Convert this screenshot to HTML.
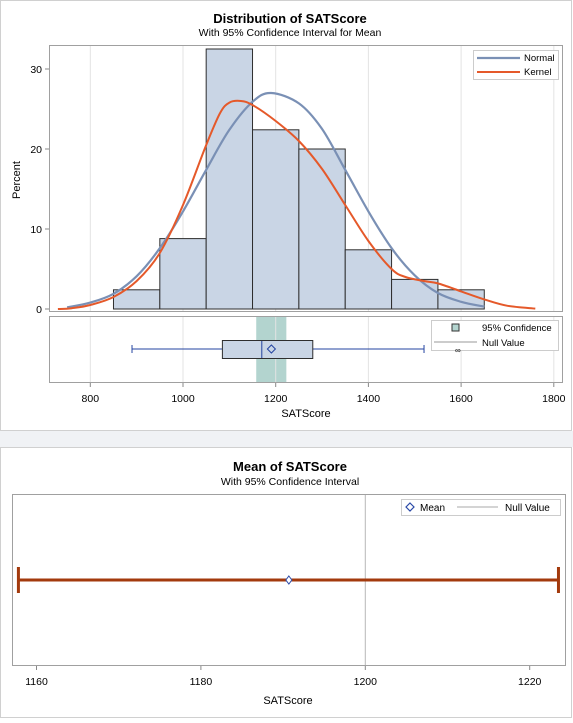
<!DOCTYPE html>
<html><head><meta charset="utf-8"><style>
body{margin:0;background:#fff;width:573px;height:718px;overflow:hidden;font-family:"Liberation Sans",sans-serif;}
svg text{font-family:"Liberation Sans",sans-serif;}
</style></head><body>
<svg id="s" width="573" height="718">
<rect x="0" y="0" width="573" height="718" fill="#fff"/>
<rect x="0" y="431" width="573" height="16" fill="#f0f2f5"/>
<rect x="0.5" y="0.5" width="571" height="430" fill="none" stroke="#d0d0d0"/>
<rect x="0.5" y="447.5" width="571" height="270" fill="none" stroke="#d0d0d0"/>
<text x="290" y="23" text-anchor="middle" font-size="13" font-weight="bold">Distribution of SATScore</text>
<text x="290" y="36" text-anchor="middle" font-size="10.5">With 95% Confidence Interval for Mean</text>
<text x="290" y="471" text-anchor="middle" font-size="13" font-weight="bold">Mean of SATScore</text>
<text x="290" y="485" text-anchor="middle" font-size="10.5">With 95% Confidence Interval</text>
<g id="topg"></g><g id="botg"></g>
</svg>
<script>
const binStarts=[850,950,1050,1150,1250,1350,1450,1550];
const binPercents=[2.4,8.8,32.5,22.4,20,7.4,3.7,2.4];
const normalX=[750,800,850,900,950,1000,1050,1100,1150,1190,1250,1300,1350,1400,1450,1500,1550,1600,1650];
const normalY=[0.2,0.8,1.9,4.1,7.6,12.2,17.4,22.4,25.9,27,25.7,22.5,17.4,12.2,7.6,4.2,2.0,0.9,0.3];
const kernelX=[730,760,800,850,900,950,1000,1050,1080,1100,1125,1150,1200,1250,1300,1350,1400,1450,1480,1520,1550,1600,1650,1700,1760];
const kernelY=[0,0.1,0.5,1.5,3.5,7,13,20.5,24.5,25.8,26,25.5,23.5,21,17.5,13,8.5,5,4,3.5,3.2,2.2,1.2,0.4,0.05];
const xTicks=[800,1000,1200,1400,1600,1800];
const yTicks=[0,10,20,30];
const boxStats={min:890,q1:1085,median:1170,mean:1190.7,q3:1280,max:1520};
const ciTop=[1158,1223];
const ciLow=[1157.8],ciHigh=[1223.5],meanVal=[1190.7],nullVal=[1200];
const botTicks=[1160,1180,1200,1220];

const NS="http://www.w3.org/2000/svg";
function mk(p,t,a){const e=document.createElementNS(NS,t);for(const k in a)e.setAttribute(k,a[k]);p.appendChild(e);return e;}
const topG=document.getElementById('topg'),botG=document.getElementById('botg');
const X=v=>90.3+(v-800)*0.4635;
const Y=v=>309-v*8;
let f=mk(topG,'rect',{x:49.5,y:45.5,width:513,height:266,fill:'#fff',stroke:'#a0a0a0'});


f=mk(topG,'rect',{x:49.5,y:316.5,width:513,height:66,fill:'#fff',stroke:'#a0a0a0'});


const band=mk(topG,'rect',{x:X(ciTop[0]),y:317,width:X(ciTop[1])-X(ciTop[0]),height:65,fill:'#b3d4cf'});


xTicks.forEach(t=>{
 [[46,311],[317,382]].forEach(r=>{const g=mk(topG,'line',{x1:X(t),x2:X(t),y1:r[0],y2:r[1],stroke:'#e3e3e3'});
 
 });
 mk(topG,'line',{x1:X(t),x2:X(t),y1:383,y2:387,stroke:'#888'});
 const l=mk(topG,'text',{x:X(t),y:402,'text-anchor':'middle','font-size':'10.5'});l.textContent=t;
 
 
});
yTicks.forEach(t=>{
 mk(topG,'line',{x1:45,x2:49,y1:Y(t),y2:Y(t),stroke:'#888'});
 const l=mk(topG,'text',{x:42,y:Y(t)+4,'text-anchor':'end','font-size':'10.5'});l.textContent=t;
 
 
});
let t=mk(topG,'text',{x:20,y:180,'text-anchor':'middle','font-size':'11',transform:'rotate(-90 20 180)'});t.textContent='Percent';


t=mk(topG,'text',{x:306,y:417,'text-anchor':'middle','font-size':'11'});t.textContent='SATScore';


binStarts.forEach((s,i)=>{const b=mk(topG,'rect',{x:X(s),y:Y(binPercents[i]),width:X(s+100)-X(s),height:Y(0)-Y(binPercents[i]),fill:'#c9d5e5',stroke:'#2e2e2e','stroke-width':1});
 
 });
function path(xs,ys){
 const P=xs.map((x,i)=>[X(x),Y(ys[i])]);
 let d='M'+P[0][0].toFixed(1)+','+P[0][1].toFixed(1);
 for(let i=0;i<P.length-1;i++){
  const p0=P[i-1]||P[i],p1=P[i],p2=P[i+1],p3=P[i+2]||P[i+1];
  const c1=[p1[0]+(p2[0]-p0[0])/6,p1[1]+(p2[1]-p0[1])/6];
  const c2=[p2[0]-(p3[0]-p1[0])/6,p2[1]-(p3[1]-p1[1])/6];
  d+=`C${c1[0].toFixed(1)},${c1[1].toFixed(1)} ${c2[0].toFixed(1)},${c2[1].toFixed(1)} ${p2[0].toFixed(1)},${p2[1].toFixed(1)}`;
 }
 return d;
}
let p=mk(topG,'path',{d:path(normalX,normalY),fill:'none',stroke:'#7a90b5','stroke-width':2.2,'stroke-linejoin':'round'});


p=mk(topG,'path',{d:path(kernelX,kernelY),fill:'none',stroke:'#e5592a','stroke-width':2,'stroke-linejoin':'round'});


let lg=mk(topG,'g',{});


mk(lg,'rect',{x:473.5,y:50.5,width:85,height:29,fill:'#fff',stroke:'#ccc'});
mk(lg,'line',{x1:477,x2:520,y1:58,y2:58,stroke:'#7a90b5','stroke-width':2.2});
mk(lg,'line',{x1:477,x2:520,y1:72,y2:72,stroke:'#e5592a','stroke-width':2});
t=mk(lg,'text',{x:524,y:61,'font-size':'9.5'});t.textContent='Normal';


t=mk(lg,'text',{x:524,y:75,'font-size':'9.5'});t.textContent='Kernel';


const cy=349;
let bx=mk(topG,'g',{});


mk(bx,'line',{x1:X(boxStats.min),x2:X(boxStats.q1),y1:cy,y2:cy,stroke:'#2343a0'});
mk(bx,'line',{x1:X(boxStats.q3),x2:X(boxStats.max),y1:cy,y2:cy,stroke:'#2343a0'});
mk(bx,'line',{x1:X(boxStats.min),x2:X(boxStats.min),y1:cy-4,y2:cy+4,stroke:'#2343a0'});
mk(bx,'line',{x1:X(boxStats.max),x2:X(boxStats.max),y1:cy-4,y2:cy+4,stroke:'#2343a0'});
mk(bx,'rect',{x:X(boxStats.q1),y:340.5,width:X(boxStats.q3)-X(boxStats.q1),height:18,fill:'#c9d5e5',stroke:'#2e2e2e'});
mk(bx,'line',{x1:X(boxStats.median),x2:X(boxStats.median),y1:341,y2:358,stroke:'#2343a0'});
const mx=X(boxStats.mean);
mk(bx,'path',{d:`M${mx},${cy-4}L${mx+4},${cy}L${mx},${cy+4}L${mx-4},${cy}Z`,fill:'none',stroke:'#2343a0'});
lg=mk(topG,'g',{});


mk(lg,'rect',{x:431.5,y:320.5,width:127,height:30,fill:'#fff',stroke:'#ccc'});
mk(lg,'rect',{x:452,y:324,width:7,height:7,fill:'#b3d4cf',stroke:'#333'});
mk(lg,'line',{x1:434,x2:477,y1:342,y2:342,stroke:'#999'});
t=mk(lg,'text',{x:482,y:331,'font-size':'9.5'});t.textContent='95% Confidence';


t=mk(lg,'text',{x:482,y:346,'font-size':'9.5'});t.textContent='Null Value';


t=mk(lg,'text',{x:455,y:353,'font-size':'8'});t.textContent='∞';

const BX=v=>36.5+(v-1160)*164.4/20;
f=mk(botG,'rect',{x:12.5,y:494.5,width:553,height:171,fill:'#fff',stroke:'#a0a0a0'});


let nl=mk(botG,'line',{x1:BX(nullVal[0]),x2:BX(nullVal[0]),y1:495,y2:665,stroke:'#b8b8b8'});


botTicks.forEach(v=>{mk(botG,'line',{x1:BX(v),x2:BX(v),y1:666,y2:670,stroke:'#888'});
 const l=mk(botG,'text',{x:BX(v),y:685,'text-anchor':'middle','font-size':'10.5'});l.textContent=v;
 
 });
t=mk(botG,'text',{x:288,y:704,'text-anchor':'middle','font-size':'11'});t.textContent='SATScore';


const ey=580;
let eb=mk(botG,'g',{});


mk(eb,'line',{x1:BX(ciLow[0]),x2:BX(ciHigh[0]),y1:ey,y2:ey,stroke:'#a33a0d','stroke-width':3});
mk(eb,'line',{x1:BX(ciLow[0]),x2:BX(ciLow[0]),y1:567,y2:593,stroke:'#a33a0d','stroke-width':3});
mk(eb,'line',{x1:BX(ciHigh[0]),x2:BX(ciHigh[0]),y1:567,y2:593,stroke:'#a33a0d','stroke-width':3});
const bm=BX(meanVal[0]);
let md=mk(botG,'path',{d:`M${bm},${ey-4}L${bm+3},${ey}L${bm},${ey+4}L${bm-3},${ey}Z`,fill:'#fff',stroke:'#2b4aa8'});


lg=mk(botG,'g',{});


mk(lg,'rect',{x:401.5,y:499.5,width:159,height:16,fill:'#fff',stroke:'#ccc'});
mk(lg,'path',{d:'M410,503L414,507L410,511L406,507Z',fill:'none',stroke:'#2b4aa8','stroke-width':1.2});
mk(lg,'line',{x1:457,x2:498,y1:507,y2:507,stroke:'#aaa'});
t=mk(lg,'text',{x:420,y:511,'font-size':'10'});t.textContent='Mean';


t=mk(lg,'text',{x:505,y:511,'font-size':'10'});t.textContent='Null Value';


</script>
</body></html>
